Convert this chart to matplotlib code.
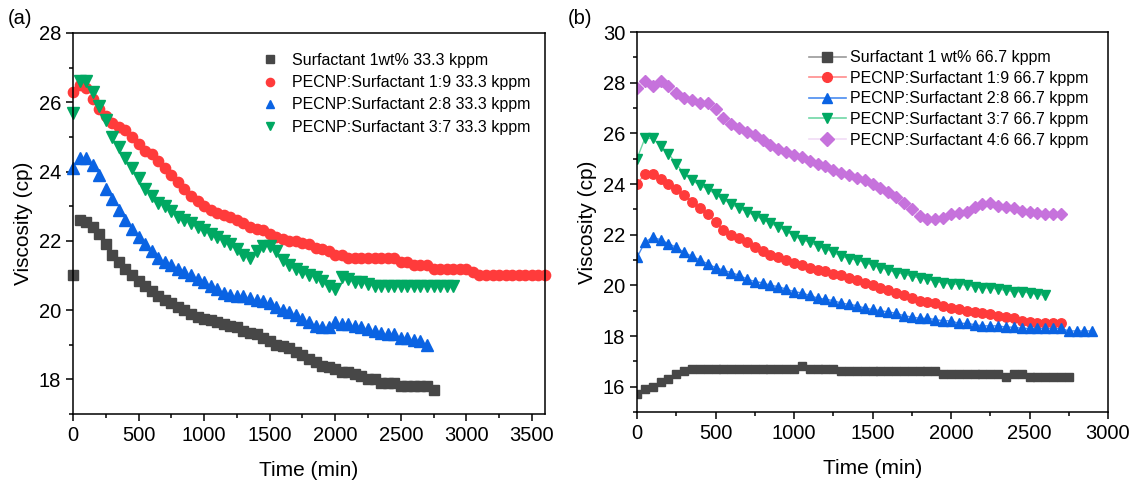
import matplotlib
matplotlib.use("Agg")
import matplotlib.pyplot as plt
import numpy as np
from matplotlib.ticker import MultipleLocator

plt.rcParams['font.family'] = ['Liberation Sans', 'DejaVu Sans']

# sampling every 50 min
step = 50

# ---- panel (a), 33.3 kppm ----
a_surf = [21.0, 22.6, 22.55, 22.4, 22.2, 21.9, 21.6, 21.4, 21.2, 21.0,
          20.85, 20.7, 20.55, 20.4, 20.3, 20.2, 20.1, 20.0, 19.9, 19.8,
          19.75, 19.7, 19.65, 19.6, 19.55, 19.5, 19.4, 19.35, 19.3, 19.2,
          19.1, 19.0, 18.95, 18.9, 18.8, 18.7, 18.6, 18.5, 18.4, 18.35,
          18.3, 18.2, 18.2, 18.15, 18.1, 18.0, 18.0, 17.9, 17.9, 17.9,
          17.8, 17.8, 17.8, 17.8, 17.8, 17.7]
a_19 = [26.3, 26.5, 26.4, 26.1, 25.8, 25.6, 25.4, 25.3, 25.2, 25.0,
        24.8, 24.6, 24.5, 24.3, 24.1, 23.9, 23.7, 23.5, 23.3, 23.15,
        23.0, 22.9, 22.8, 22.75, 22.7, 22.6, 22.5, 22.4, 22.35, 22.3,
        22.2, 22.1, 22.05, 22.0, 22.0, 21.95, 21.9, 21.8, 21.75, 21.7,
        21.6, 21.6, 21.5, 21.5, 21.5, 21.5, 21.5, 21.5, 21.5, 21.5,
        21.4, 21.4, 21.3, 21.3, 21.3, 21.2, 21.2, 21.2, 21.2, 21.2,
        21.2, 21.1, 21.0, 21.0, 21.0, 21.0, 21.0, 21.0, 21.0, 21.0,
        21.0, 21.0, 21.0]
a_28 = [24.1, 24.4, 24.4, 24.2, 23.9, 23.5, 23.2, 22.9, 22.6, 22.35,
        22.1, 21.9, 21.7, 21.5, 21.4, 21.3, 21.2, 21.1, 21.0, 20.9,
        20.8, 20.7, 20.6, 20.5, 20.45, 20.4, 20.4, 20.35, 20.3, 20.25,
        20.2, 20.1, 20.0, 19.95, 19.85, 19.75, 19.65, 19.55, 19.5, 19.5,
        19.65, 19.6, 19.6, 19.55, 19.5, 19.45, 19.4, 19.35, 19.3, 19.3,
        19.2, 19.2, 19.15, 19.1, 19.0]
a_37 = [25.7, 26.6, 26.6, 26.3, 25.9, 25.5, 25.0, 24.7, 24.4, 24.1,
        23.8, 23.5, 23.3, 23.1, 23.0, 22.85, 22.7, 22.6, 22.5, 22.4,
        22.3, 22.2, 22.1, 22.0, 21.9, 21.75, 21.6, 21.5, 21.7, 21.85,
        21.85, 21.7, 21.45, 21.3, 21.2, 21.1, 21.0, 20.95, 20.85, 20.7,
        20.6, 20.95, 20.9, 20.8, 20.8, 20.75, 20.7, 20.7, 20.7, 20.7,
        20.7, 20.7, 20.7, 20.7, 20.7, 20.7, 20.7, 20.7, 20.7]

# ---- panel (b), 66.7 kppm ----
b_surf = [15.7, 15.9, 16.0, 16.2, 16.3, 16.5, 16.6, 16.7, 16.7, 16.7,
          16.7, 16.7, 16.7, 16.7, 16.7, 16.7, 16.7, 16.7, 16.7, 16.7,
          16.7, 16.8, 16.7, 16.7, 16.7, 16.7, 16.6, 16.6, 16.6, 16.6,
          16.6, 16.6, 16.6, 16.6, 16.6, 16.6, 16.6, 16.6, 16.6, 16.5,
          16.5, 16.5, 16.5, 16.5, 16.5, 16.5, 16.5, 16.4, 16.5, 16.5,
          16.4, 16.4, 16.4, 16.4, 16.4, 16.4]
b_19 = [24.0, 24.4, 24.4, 24.2, 24.0, 23.8, 23.55, 23.3, 23.05, 22.8,
        22.5, 22.2, 22.0, 21.85, 21.7, 21.5, 21.35, 21.2, 21.1, 21.0,
        20.9, 20.8, 20.7, 20.6, 20.55, 20.45, 20.4, 20.3, 20.2, 20.1,
        20.0, 19.9, 19.8, 19.7, 19.6, 19.5, 19.4, 19.35, 19.3, 19.2,
        19.1, 19.05, 19.0, 18.95, 18.9, 18.85, 18.8, 18.75, 18.7, 18.6,
        18.55, 18.5, 18.5, 18.5, 18.5]
b_28 = [21.1, 21.7, 21.9, 21.8, 21.65, 21.5, 21.3, 21.15, 21.0, 20.85,
        20.7, 20.6, 20.5, 20.4, 20.25, 20.15, 20.1, 20.0, 19.95, 19.85,
        19.75, 19.7, 19.6, 19.5, 19.45, 19.4, 19.3, 19.25, 19.2, 19.1,
        19.05, 19.0, 18.95, 18.9, 18.8, 18.75, 18.7, 18.7, 18.65, 18.6,
        18.6, 18.5, 18.5, 18.45, 18.4, 18.4, 18.4, 18.35, 18.35, 18.3,
        18.3, 18.3, 18.3, 18.3, 18.3, 18.2, 18.2, 18.2, 18.2]
b_37 = [25.0, 25.8, 25.8, 25.5, 25.2, 24.8, 24.4, 24.15, 23.95, 23.8,
        23.6, 23.4, 23.2, 23.05, 22.9, 22.75, 22.6, 22.45, 22.3, 22.15,
        21.95, 21.8, 21.7, 21.55, 21.45, 21.3, 21.15, 21.05, 21.0, 20.9,
        20.8, 20.7, 20.6, 20.5, 20.45, 20.35, 20.3, 20.25, 20.15, 20.1,
        20.05, 20.05, 20.0, 19.95, 19.9, 19.9, 19.85, 19.8, 19.75, 19.75,
        19.7, 19.65, 19.6]
b_46 = [27.8, 28.05, 27.85, 28.05, 27.85, 27.6, 27.4, 27.3, 27.2, 27.2,
        26.95, 26.6, 26.35, 26.2, 26.05, 25.95, 25.75, 25.55, 25.4, 25.25,
        25.15, 25.05, 24.9, 24.8, 24.7, 24.55, 24.45, 24.35, 24.25, 24.15,
        24.0, 23.85, 23.7, 23.5, 23.25, 23.0, 22.75, 22.6, 22.6, 22.65,
        22.8, 22.85, 22.9, 23.1, 23.2, 23.25, 23.15, 23.1, 23.05, 22.95,
        22.9, 22.85, 22.8, 22.8, 22.8]

labels_a = ["Surfactant 1wt% 33.3 kppm", "PECNP:Surfactant 1:9 33.3 kppm",
            "PECNP:Surfactant 2:8 33.3 kppm", "PECNP:Surfactant 3:7 33.3 kppm"]
labels_b = ["Surfactant 1 wt% 66.7 kppm", "PECNP:Surfactant 1:9 66.7 kppm",
            "PECNP:Surfactant 2:8 66.7 kppm", "PECNP:Surfactant 3:7 66.7 kppm",
            "PECNP:Surfactant 4:6 66.7 kppm"]

colors = ['#474747', '#ff3b3b', '#0a63e3', '#00a862', '#c672dc']
light = ['#9a9a9a', '#ff8c8c', '#4a8cf0', '#6fd7a6', '#f1dcf6']
markers = ['s', 'o', '^', 'v', 'D']
msize = [6.8, 7.4, 8.0, 8.0, 6.4]


def t(vals):
    return np.arange(len(vals)) * step


def style(ax, xmax, ylo, yhi):
    ax.set_xlim(0, xmax)
    ax.set_ylim(ylo, yhi)
    ax.xaxis.set_major_locator(MultipleLocator(500))
    ax.xaxis.set_minor_locator(MultipleLocator(250))
    ax.yaxis.set_major_locator(MultipleLocator(2))
    ax.yaxis.set_minor_locator(MultipleLocator(1))
    ax.tick_params(which='major', direction='out', length=5, width=1.1, labelsize=14.5)
    ax.tick_params(which='minor', direction='out', length=3, width=1.1)
    for s in ax.spines.values():
        s.set_linewidth(1.1)
    ax.set_xlabel('Time (min)', fontsize=15, labelpad=12)
    ax.set_ylabel('Viscosity (cp)', fontsize=15, labelpad=4)


fig = plt.figure(figsize=(11.33, 4.8), dpi=100)

# panel (a): markers only
ax1 = fig.add_axes([73 / 1133, 1 - 414 / 480, 472 / 1133, 381 / 480])
for i, vals in enumerate([a_surf, a_19, a_28, a_37]):
    ax1.plot(t(vals), vals, linestyle='none', marker=markers[i], ms=msize[i],
             color=colors[i], mec=colors[i], label=labels_a[i], clip_on=False)
style(ax1, 3600, 17, 28)
ax1.legend(loc='upper right', bbox_to_anchor=(1.0, 0.985), frameon=False,
           fontsize=11.5, handlelength=0.8, handletextpad=1.0,
           labelspacing=0.45, markerscale=0.8)
fig.text(8 / 1133, 1 - 18 / 480, '(a)', fontsize=14.5, va='center')

# panel (b): markers joined by thin light lines
ax2 = fig.add_axes([637 / 1133, 1 - 412 / 480, 471 / 1133, 380 / 480])
for i, vals in enumerate([b_surf, b_19, b_28, b_37, b_46]):
    ax2.plot(t(vals), vals, '-', lw=1.0, color=light[i], zorder=1)
    ax2.plot(t(vals), vals, linestyle='none', marker=markers[i], ms=msize[i] * 0.92,
             color=colors[i], mec=colors[i], zorder=2)
handles = [plt.Line2D([], [], color=light[i], lw=1.2, marker=markers[i], ms=7,
                      mfc=colors[i], mec=colors[i]) for i in range(5)]
ax2.legend(handles, labels_b, loc='upper right', bbox_to_anchor=(0.99, 0.99),
           frameon=False, fontsize=11.5, handlelength=2.3, handletextpad=0.3,
           labelspacing=0.35)
style(ax2, 3000, 15, 30)
fig.text(568 / 1133, 1 - 18 / 480, '(b)', fontsize=14.5, va='center')

fig.savefig('out.png', dpi=100)
